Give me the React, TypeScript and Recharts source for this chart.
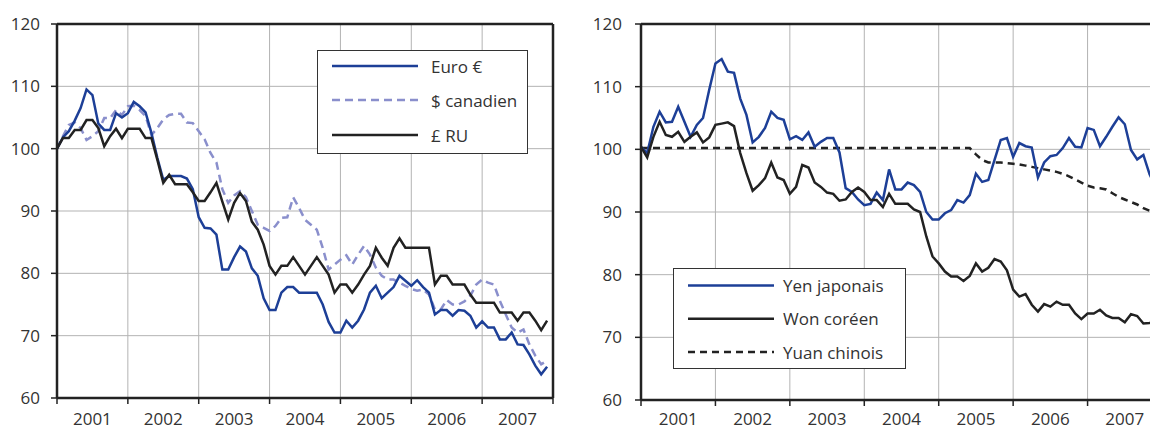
import { LineChart, Line, XAxis, YAxis, CartesianGrid, ReferenceLine } from 'recharts';

// x ticks sit on each January (month index), labels are centred inside the year
const yearTicks = [0, 12, 24, 36, 48, 60, 72, 84];
const yearLabels = ['2001', '2002', '2003', '2004', '2005', '2006', '2007'];
const yTicks = [60, 70, 80, 90, 100, 110, 120];

// left panel, monthly Jan 2001 - Dec 2007
const euro = [
  100, 101.8, 102.8, 104.5, 106.5, 109.5, 108.6, 104, 103, 103, 105.7, 105,
  105.7, 107.5, 106.8, 105.8, 102.5, 98.5, 95, 95.6, 95.6, 95.6, 95.2, 93.5,
  89, 87.3, 87.2, 86.2, 80.6, 80.6, 82.6, 84.3, 83.5, 80.8, 79.6, 76,
  74.1, 74.1, 76.9, 77.8, 77.8, 76.9, 76.9, 76.9, 76.9, 75, 72.2, 70.5,
  70.5, 72.4, 71.3, 72.4, 74.2, 76.9, 78, 76, 76.9, 77.8, 79.6, 78.8,
  78, 78.9, 77.8, 76.9, 73.4, 74.1, 74.1, 73.2, 74.1, 74, 73.2, 71.3,
  72.3, 71.3, 71.3, 69.4, 69.4, 70.5, 68.6, 68.5, 67, 65.2, 63.8, 65,
];
const cad = [
  100, 102, 103.8, 104.2, 103.3, 101.4, 102, 102.8, 104.9, 104.9, 106.2, 105.4,
  106.8, 106.9, 106.2, 105.2, 102.2, 103.3, 104.7, 105.4, 105.6, 105.6, 104.2, 104.1,
  102.8, 101.5, 99.3, 97.8, 93.5, 91.3, 92.5, 93.2, 92.2, 90, 87.8, 87.3,
  86.8, 87.6, 88.9, 89, 92.2, 90.5, 88.6, 87.8, 87, 84.1, 80.6, 81.4,
  82.2, 82.9, 81.4, 83, 84.4, 83, 80.9, 79.6, 79, 79, 78.5, 78,
  77.5, 77.2, 77.4, 76.6, 74.2, 74.2, 75.7, 75, 75, 75.5, 76.4, 78.2,
  79, 78.5, 78.2, 75.6, 73.4, 71.3, 70.5, 71, 68.6, 66.8, 65.4, 66,
];
const gbp = [
  100, 101.7, 101.7, 103, 103, 104.6, 104.6, 103.3, 100.4, 102, 103.2, 101.7,
  103.2, 103.2, 103.2, 101.7, 101.7, 98.2, 94.5, 95.8, 94.3, 94.3, 94.3, 93,
  91.6, 91.6, 93, 94.5, 91.5, 88.6, 91.3, 92.9, 91.6, 88.3, 87, 84.6,
  81.2, 79.8, 81.2, 81.2, 82.6, 81.2, 79.8, 81.2, 82.6, 81.2, 79.8, 76.9,
  78.2, 78.2, 76.9, 78.2, 79.8, 81.2, 84.1, 82.5, 81.2, 84.1, 85.6, 84.1,
  84.1, 84.1, 84.1, 84.1, 78.2, 79.6, 79.6, 78.2, 78.2, 78.2, 76.6, 75.3,
  75.3, 75.3, 75.3, 73.7, 73.7, 73.7, 72.4, 73.7, 73.7, 72.4, 70.9, 72.4,
];

// right panel
const yen = [
  100.4, 99.4, 103.6, 106, 104.3, 104.4, 106.8, 104.4, 102, 103.9, 105, 109.5,
  113.7, 114.4, 112.4, 112.2, 108.1, 105.5, 101.1, 102, 103.4, 106, 105, 104.7,
  101.6, 102.1, 101.5, 102.7, 100.4, 101.2, 101.8, 101.8, 99.5, 93.8, 93.2, 92,
  91.1, 91.3, 93.1, 91.9, 96.8, 93.6, 93.6, 94.7, 94.3, 93.2, 90, 88.8,
  88.8, 89.8, 90.3, 91.9, 91.5, 92.7, 96.1, 94.8, 95.1, 98.3, 101.5, 101.8,
  98.8, 101, 100.5, 100.3, 95.5, 97.9, 98.9, 99.1, 100.2, 101.8, 100.4, 100.3,
  103.4, 103.1, 100.5, 102, 103.6, 105.1, 104, 99.9, 98.4, 99.1, 96, 94,
];
const won = [
  100.4, 98.7, 102, 104.4, 102.3, 102, 102.8, 101.2, 102, 102.7, 101.1, 101.9,
  103.9, 104.1, 104.3, 103.7, 99.4, 96.2, 93.4, 94.3, 95.4, 97.9, 95.5, 95.1,
  92.9, 94, 97.5, 97.1, 94.7, 94, 93.1, 92.9, 91.8, 92, 93.2, 93.9,
  93.2, 91.9, 91.9, 90.8, 92.9, 91.3, 91.3, 91.3, 90.4, 90, 86.1, 82.9,
  81.8, 80.5, 79.7, 79.7, 79, 79.8, 81.8, 80.5, 81.1, 82.5, 82.1, 80.7,
  77.6, 76.5, 76.9, 75.2, 74.1, 75.3, 74.9, 75.7, 75.2, 75.2, 73.8, 72.9,
  73.8, 73.8, 74.4, 73.5, 73.1, 73.1, 72.4, 73.7, 73.4, 72.2, 72.3, 72.5,
];
const yuan = [
  100.2, 100.2, 100.2, 100.2, 100.2, 100.2, 100.2, 100.2, 100.2, 100.2, 100.2, 100.2,
  100.2, 100.2, 100.2, 100.2, 100.2, 100.2, 100.2, 100.2, 100.2, 100.2, 100.2, 100.2,
  100.2, 100.2, 100.2, 100.2, 100.2, 100.2, 100.2, 100.2, 100.2, 100.2, 100.2, 100.2,
  100.2, 100.2, 100.2, 100.2, 100.2, 100.2, 100.2, 100.2, 100.2, 100.2, 100.2, 100.2,
  100.2, 100.2, 100.2, 100.2, 100.2, 100.2, 99.2, 98.3, 97.9, 97.9, 97.9, 97.8,
  97.7, 97.6, 97.4, 97.2, 97, 96.8, 96.6, 96.4, 96.1, 95.7, 95.2, 94.7,
  94.2, 93.9, 93.8, 93.6, 93, 92.4, 92, 91.6, 91.2, 90.6, 90.2, 89.8,
];

const leftData = euro.map((v, i) => ({ m: i, euro: v, cad: cad[i], gbp: gbp[i] }));
const rightData = yen.map((v, i) => ({ m: i, yen: v, won: won[i], yuan: yuan[i] }));

const FONT = 'Open Sans';
const TEXT = '#333';
const FRAME = '#222';
const BLUE = '#1d3f97';
const LIGHT = '#8a8fcc';

const yearTick = (half: number, dy: number) => (props: any) => {
  const idx = yearTicks.indexOf(props.payload.value);
  if (idx < 0 || idx >= yearLabels.length) return <g />;
  return (
    <text x={props.x + half} y={props.y} dy={dy} textAnchor="middle" fill={TEXT} fontSize={17} fontFamily={FONT}>
      {yearLabels[idx]}
    </text>
  );
};

type Item = { name: string; color: string; dash?: string };

function LegendBox({ items, left, top, width, height, rows, textX }: {
  items: Item[]; left: number; top: number; width: number; height: number; rows: number[]; textX: number;
}) {
  return (
    <div style={{ position: 'absolute', left, top, width, height, border: '1.5px solid #333', background: '#fff', boxSizing: 'border-box' }}>
      <svg width={width - 3} height={height - 3} style={{ display: 'block' }}>
        {items.map((it, k) => (
          <g key={it.name}>
            <line x1={14} x2={100} y1={rows[k]} y2={rows[k]} stroke={it.color} strokeWidth={2.5} strokeDasharray={it.dash} />
            <text x={textX} y={rows[k]} dominantBaseline="central" fill={TEXT} fontSize={17} fontFamily={FONT}>{it.name}</text>
          </g>
        ))}
      </svg>
    </div>
  );
}

export default function App() {
  return (
    <div style={{ position: 'fixed', left: 0, top: 0, width: 1150, height: 430, overflow: 'hidden', background: '#fff' }}>
      <div style={{ position: 'absolute', left: 0, top: 0 }}>
        <LineChart width={560} height={430} data={leftData} margin={{ top: 24, right: 7, bottom: 0, left: 7 }}>
          <CartesianGrid stroke="#b3b3b3" strokeWidth={1} />
          <XAxis
            dataKey="m" type="number" domain={[0, 84]} ticks={yearTicks} interval={0} height={32}
            axisLine={{ stroke: FRAME, strokeWidth: 2.5 }} tickLine={{ stroke: FRAME, strokeWidth: 1.5 }} tickSize={6}
            tick={yearTick(35.4, 19)}
          />
          <YAxis
            domain={[60, 120]} ticks={yTicks} interval={0} width={50}
            axisLine={{ stroke: FRAME, strokeWidth: 2.5 }} tickLine={{ stroke: FRAME, strokeWidth: 1.5 }} tickSize={6} tickMargin={11}
            tick={{ fill: TEXT, fontSize: 17, fontFamily: FONT }}
          />
          <ReferenceLine y={120} stroke={FRAME} strokeWidth={2.5} />
          <ReferenceLine x={84} stroke={FRAME} strokeWidth={2.5} />
          <Line dataKey="cad" stroke={LIGHT} strokeWidth={2.5} strokeDasharray="8 5" dot={false} isAnimationActive={false} />
          <Line dataKey="euro" stroke={BLUE} strokeWidth={2.5} dot={false} isAnimationActive={false} />
          <Line dataKey="gbp" stroke={FRAME} strokeWidth={2.5} dot={false} isAnimationActive={false} />
        </LineChart>
      </div>
      <div style={{ position: 'absolute', left: 590, top: 0 }}>
        <LineChart width={574} height={430} data={rightData} margin={{ top: 24, right: 2, bottom: 0, left: 1 }}>
          <CartesianGrid stroke="#b3b3b3" strokeWidth={1} />
          <XAxis
            dataKey="m" type="number" domain={[0, 84]} ticks={yearTicks} interval={0} height={30}
            axisLine={{ stroke: FRAME, strokeWidth: 2.5 }} tickLine={{ stroke: FRAME, strokeWidth: 1.5 }} tickSize={6}
            tick={yearTick(37.2, 17)}
          />
          <YAxis
            domain={[60, 120]} ticks={yTicks} interval={0} width={50}
            axisLine={{ stroke: FRAME, strokeWidth: 2.5 }} tickLine={{ stroke: FRAME, strokeWidth: 1.5 }} tickSize={6} tickMargin={13}
            tick={{ fill: TEXT, fontSize: 17, fontFamily: FONT }}
          />
          <ReferenceLine y={120} stroke={FRAME} strokeWidth={2.5} />
          <Line dataKey="yuan" stroke={FRAME} strokeWidth={2.5} strokeDasharray="7 5" dot={false} isAnimationActive={false} />
          <Line dataKey="yen" stroke={BLUE} strokeWidth={2.5} dot={false} isAnimationActive={false} />
          <Line dataKey="won" stroke={FRAME} strokeWidth={2.5} dot={false} isAnimationActive={false} />
        </LineChart>
      </div>
      <LegendBox
        left={317} top={50} width={211} height={104} rows={[15, 49, 84]} textX={113}
        items={[
          { name: 'Euro €', color: BLUE },
          { name: '$ canadien', color: LIGHT, dash: '8 5' },
          { name: '£ RU', color: FRAME },
        ]}
      />
      <LegendBox
        left={673} top={268} width={233} height={101} rows={[16.5, 49.7, 83]} textX={109}
        items={[
          { name: 'Yen japonais', color: BLUE },
          { name: 'Won coréen', color: FRAME },
          { name: 'Yuan chinois', color: FRAME, dash: '7 5' },
        ]}
      />
    </div>
  );
}
